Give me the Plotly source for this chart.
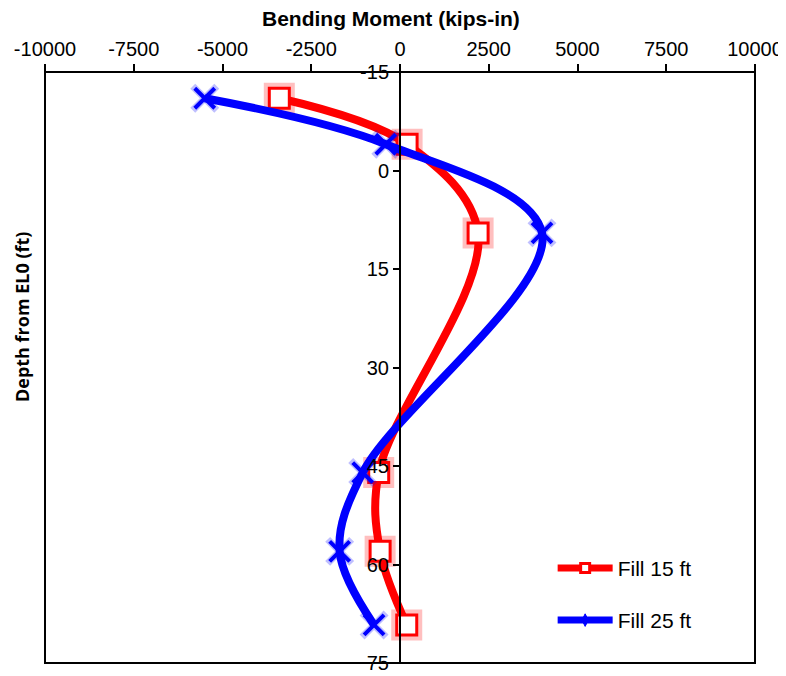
import plotly.graph_objects as go

depth = [-11, -4, 9.5, 46, 58, 69.2]
fill15 = [-3400, 200, 2200, -600, -560, 190]
fill25 = [-5500, -400, 4000, -1050, -1700, -730]
x_ticks = [-10000, -7500, -5000, -2500, 0, 2500, 5000, 7500, 10000]
y_ticks = [-15, 0, 15, 30, 45, 60, 75]

RED = "#ff0000"
BLUE = "#0000ff"
FONT = "Liberation Sans, Arial, sans-serif"

fig = go.Figure()

# glow behind markers
fig.add_trace(go.Scatter(x=fill15, y=depth, mode="markers", showlegend=False, hoverinfo="skip",
                         marker=dict(symbol="square-open", size=24, color="rgba(255,0,0,0.25)",
                                     line=dict(width=7, color="rgba(255,0,0,0.25)"))))
fig.add_trace(go.Scatter(x=fill15, y=depth, mode="lines+markers", name="Fill 15 ft", showlegend=False,
                         line=dict(color=RED, width=8, shape="spline", smoothing=1.0),
                         marker=dict(symbol="square", size=20, color="white",
                                     line=dict(width=3, color=RED))))
fig.add_trace(go.Scatter(x=fill25, y=depth, mode="markers", showlegend=False, hoverinfo="skip",
                         marker=dict(symbol="x-thin-open", size=24, color="rgba(0,0,255,0.25)",
                                     line=dict(width=7, color="rgba(0,0,255,0.25)"))))
fig.add_trace(go.Scatter(x=fill25, y=depth, mode="lines+markers", name="Fill 25 ft", showlegend=False,
                         line=dict(color=BLUE, width=8, shape="spline", smoothing=1.0),
                         marker=dict(symbol="x-thin-open", size=20, color=BLUE,
                                     line=dict(width=4, color=BLUE))))

# legend entries
fig.add_trace(go.Scatter(x=[None], y=[None], mode="lines+markers", name="Fill 15 ft", legend="legend",
                         line=dict(color=RED, width=7),
                         marker=dict(symbol="square", size=9, color="white", line=dict(width=3, color=RED))))
fig.add_trace(go.Scatter(x=[None], y=[None], mode="lines+markers", name="Fill 25 ft", legend="legend2",
                         line=dict(color=BLUE, width=7),
                         marker=dict(symbol="diamond-tall", size=9, color=BLUE, line=dict(width=1, color=BLUE))))

fig.update_layout(
    width=778, height=668,
    margin=dict(l=37, r=31, t=64, b=13, autoexpand=False),
    paper_bgcolor="white", plot_bgcolor="white",
    font=dict(family=FONT, size=20, color="black"),
    xaxis=dict(range=[-10000, 10000], side="top", tickvals=x_ticks, automargin=False,
               ticktext=[str(v) for v in x_ticks], ticks="outside", ticklen=7, tickwidth=2,
               tickcolor="black", showgrid=False, zeroline=False, showline=False,
               domain=[0, 1]),
    yaxis=dict(range=[75, -15], tickvals=y_ticks, ticktext=[str(v) for v in y_ticks], automargin=False,
               anchor="free", position=0.5, ticks="outside", ticklen=6, tickwidth=2,
               tickcolor="black", showline=True, linewidth=2, linecolor="black",
               showgrid=False, zeroline=False),
    legend=dict(x=0.715, y=0.16, xanchor="left", yanchor="middle", bgcolor="rgba(0,0,0,0)",
                font=dict(size=21), itemwidth=55),
    legend2=dict(x=0.715, y=0.072, xanchor="left", yanchor="middle", bgcolor="rgba(0,0,0,0)",
                 font=dict(size=21), itemwidth=55),
    shapes=[dict(type="rect", xref="paper", yref="paper", x0=0, x1=1, y0=0, y1=1,
                 line=dict(color="black", width=2), layer="below")],
    annotations=[
        dict(text="<b>Depth from EL0 (ft)</b>", xref="paper", yref="paper",
             x=-0.0324, y=0.587, xanchor="center", yanchor="middle", textangle=-90, showarrow=False,
             font=dict(family="Open Sans, sans-serif", size=18)),
        dict(text="<b>Bending Moment (kips-in)</b>", xref="paper", yref="paper",
             x=0.487, y=1.0, yshift=54, xanchor="center", yanchor="middle", showarrow=False,
             font=dict(size=21)),
    ],
)

fig.write_html("out.html")
